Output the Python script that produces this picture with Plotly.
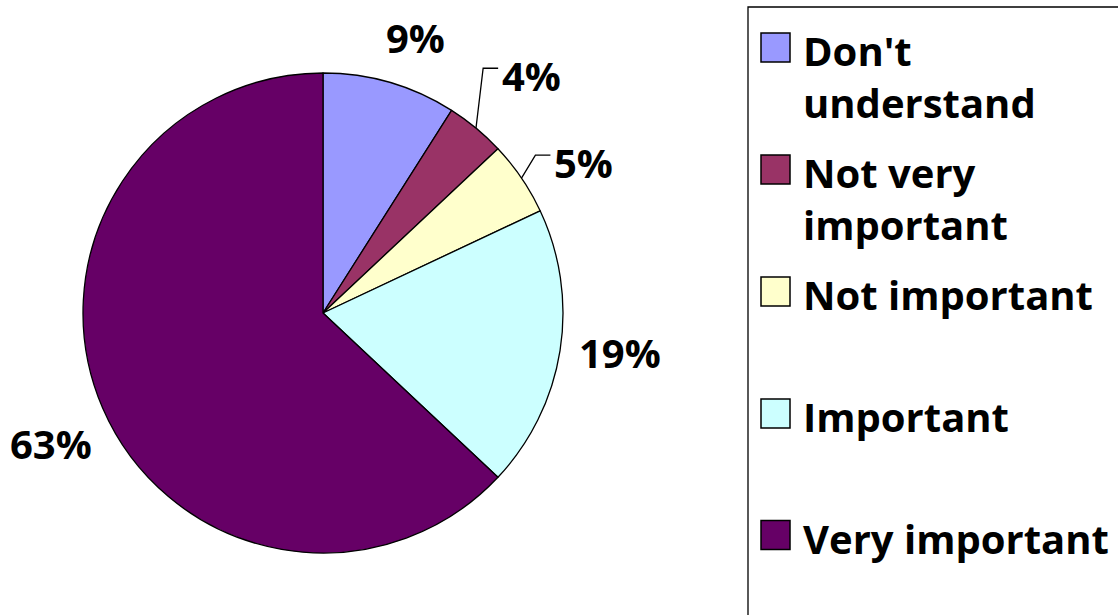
import math
import plotly.graph_objects as go

# ---- data ----
labels = ["Don't understand", "Not very important", "Not important", "Important", "Very important"]
legend_text = ["Don't<br>understand", "Not very<br>important", "Not important", "Important", "Very important"]
values = [9, 4, 5, 19, 63]
colors = ["#9999FF", "#993366", "#FFFFCC", "#CCFFFF", "#660066"]

# ---- layout geometry (pixels in the page) ----
W, H = 1118, 615
CX, CY, R = 323, 313, 240
FONT = "Open Sans"

def px(x):
    return x / W

def py(y):
    return 1 - y / H

fig = go.Figure(go.Pie(
    labels=labels, values=values, sort=False, direction="clockwise", rotation=0,
    marker=dict(colors=colors, line=dict(color="black", width=1.3)),
    textinfo="none", hoverinfo="label+percent", showlegend=False,
    domain=dict(x=[px(CX - R), px(CX + R)], y=[py(CY + R), py(CY - R)]),
))

annotations = []
shapes = []

# data labels
lab_r = [291, 316, 301, 300, 302]
lab_nudge = [2.4, 1.6, 4.1, -1.5, -2.3]
total = sum(values)
cum = 0
for i, v in enumerate(values):
    mid = (cum + v / 2) / total * 360
    cum += v
    a = math.radians(mid + lab_nudge[i])
    lx = CX + lab_r[i] * math.sin(a)
    ly = CY - lab_r[i] * math.cos(a)
    pct = round(v / total * 100)
    annotations.append(dict(x=px(lx), y=py(ly), xref="paper", yref="paper",
                            text=f"<b>{pct}%</b>", showarrow=False,
                            font=dict(family=FONT, size=40, color="black"),
                            xanchor="center", yanchor="middle"))
    if v < 6:
        am = math.radians(mid)
        sx = CX + R * math.sin(am)
        sy = CY - R * math.cos(am)
        ex, ey = lx - 33, ly - 7
        bx, by = ex - 15, ey
        shapes.append(dict(type="path", xref="paper", yref="paper",
                           path=f"M {px(sx)},{py(sy)} L {px(bx)},{py(by)} L {px(ex)},{py(ey)}",
                           line=dict(color="black", width=1.3)))

# legend box
shapes.append(dict(type="rect", xref="paper", yref="paper",
                   x0=px(748), x1=px(1140), y0=py(640), y1=py(7),
                   line=dict(color="black", width=1.3), fillcolor="rgba(0,0,0,0)"))

LFS = 40
leg_y = [47.5, 169.5, 291.5, 413.5, 535]
for i, t in enumerate(legend_text):
    cy = leg_y[i]
    shapes.append(dict(type="rect", xref="paper", yref="paper",
                       x0=px(761), x1=px(790), y0=py(cy + 14.5), y1=py(cy - 14.5),
                       line=dict(color="black", width=1.5), fillcolor=colors[i]))
    annotations.append(dict(x=px(801), y=py(cy - 0.66 * LFS), xref="paper", yref="paper",
                            text=f"<b>{t}</b>", showarrow=False, align="left",
                            font=dict(family=FONT, size=LFS, color="black"),
                            xanchor="left", yanchor="top"))

fig.update_layout(
    width=W, height=H, margin=dict(l=0, r=0, t=0, b=0),
    paper_bgcolor="white", plot_bgcolor="white",
    annotations=annotations, shapes=shapes,
)
fig.write_html("out.html", config={"displayModeBar": False},
               post_script="document.body.style.margin='0';document.body.style.overflow='hidden';")
